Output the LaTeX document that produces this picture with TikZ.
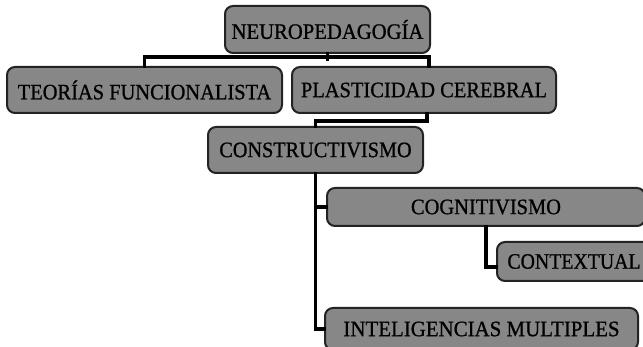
\documentclass[tikz,border=0pt]{standalone}
\usepackage{fontspec}
\setmainfont{Liberation Serif}
\newfontfamily\heavyserif{Liberation Serif}[FakeBold=0.9]
\usetikzlibrary{calc}
\definecolor{boxfill}{RGB}{135,135,135}
\definecolor{boxline}{RGB}{35,35,35}
\tikzset{
  mapbox/.style={draw=boxline, fill=boxfill, line width=2pt, rounded corners=8pt,
    inner sep=0pt, anchor=center, text=black, font=\heavyserif\fontsize{22}{22}\selectfont},
  conn/.style={draw=black, line width=3.8pt, line cap=rect}
}
\newcommand{\sq}[2]{\scalebox{#1}[1]{#2}}
\begin{document}
\begin{tikzpicture}[x=1pt,y=-1pt]
\useasboundingbox (0,0) rectangle (643,347);
\fill[white] (0,0) rectangle (643,347);
\node[mapbox, minimum width=205pt, minimum height=47pt] (neuro) at (327.5,29.5) {\sq{0.94}{NEUROPEDAGOGÍA}};
\node[mapbox, minimum width=275pt, minimum height=46pt] (teorias) at (144.5,90) {\sq{0.93}{TEORÍAS FUNCIONALISTA}};
\node[mapbox, minimum width=264pt, minimum height=46pt] (plast) at (424,90) {\sq{0.93}{PLASTICIDAD CEREBRAL}};
\node[mapbox, minimum width=215pt, minimum height=46pt] (constr) at (315.5,150) {\sq{0.92}{CONSTRUCTIVISMO}};
\node[mapbox, minimum width=318pt, minimum height=38pt] (cogni) at (486,207) {\sq{0.93}{COGNITIVISMO}};
\node[mapbox, minimum width=154pt, minimum height=39pt] (context) at (574,261.5) {\sq{0.9}{CONTEXTUAL}};
\node[mapbox, minimum width=313pt, minimum height=42pt] (intel) at (481.5,329) {\sq{0.95}{INTELIGENCIAS MULTIPLES}};
\draw[conn] (neuro.south) -- ++(0,5);
\draw[conn] (teorias.north) -- ++(0,-9) -| ([xshift=5pt]plast.north);
\draw[conn] ([xshift=3pt]plast.south) -- ++(0,7) -| (constr.north);
\draw[conn] (constr.south) |- (intel.west);
\draw[conn] (constr.south |- cogni.west) -- (cogni.west);
\draw[conn] (cogni.south) |- ([yshift=-5.5pt]context.west);
\end{tikzpicture}
\end{document}
